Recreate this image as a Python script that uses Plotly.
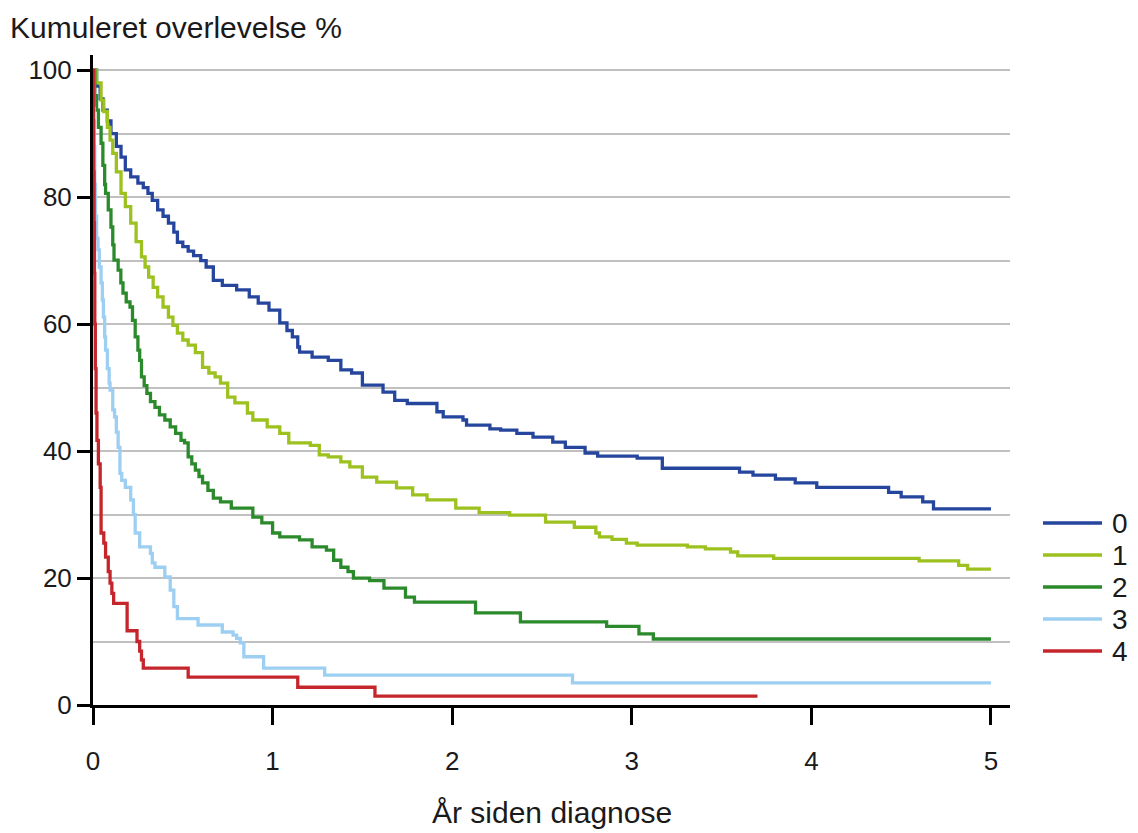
import plotly.graph_objects as go

# Kaplan-Meier style survival curves (percent surviving vs. years since diagnosis)
groups = ["0", "1", "2", "3", "4"]
colors = ["#26469E", "#9DC11F", "#2B8A2B", "#9DCFF2", "#C4262B"]

t0 = [0, 0.02, 0.04, 0.056, 0.08, 0.10, 0.13, 0.156, 0.18, 0.21, 0.25, 0.28, 0.306, 0.33,
      0.36, 0.39, 0.42, 0.45, 0.47, 0.50, 0.53, 0.56, 0.60, 0.63, 0.67, 0.72, 0.80, 0.87,
      0.92, 0.98, 1.04, 1.08, 1.11, 1.14, 1.15, 1.22, 1.31, 1.38, 1.44, 1.50, 1.615, 1.68,
      1.75, 1.915, 1.95, 2.06, 2.08, 2.21, 2.27, 2.36, 2.45, 2.56, 2.63, 2.74, 2.81, 3.03,
      3.17, 3.60, 3.675, 3.80, 3.91, 4.03, 4.43, 4.50, 4.62, 4.68, 5.0]
s0 = [100, 97.5, 95.5, 93.7, 92, 90, 88, 86.3, 84.3, 83.2, 82.2, 81.5, 80.6, 79.5,
      78, 77, 75.9, 74.5, 72.9, 72.2, 71.5, 70.8, 70, 69, 66.9, 66.1, 65.4, 64.3,
      63.3, 62.2, 60.2, 59, 58.0, 56.4, 55.6, 54.8, 54.3, 52.8, 52.3, 50.4, 49.3, 48,
      47.5, 46.2, 45.4, 44.9, 44.1, 43.5, 43.3, 42.8, 42.2, 41.4, 40.6, 39.7, 39.2, 38.9,
      37.3, 36.7, 36.2, 35.6, 35.0, 34.3, 33.5, 32.8, 32.0, 30.9, 30.9]

t1 = [0, 0.02, 0.045, 0.06, 0.08, 0.095, 0.11, 0.13, 0.156, 0.18, 0.21, 0.24, 0.27, 0.29,
      0.31, 0.335, 0.36, 0.39, 0.42, 0.445, 0.47, 0.50, 0.53, 0.57, 0.61, 0.645, 0.68, 0.71,
      0.75, 0.79, 0.86, 0.89, 0.97, 1.04, 1.09, 1.21, 1.26, 1.31, 1.38, 1.43, 1.50, 1.58,
      1.69, 1.78, 1.86, 2.02, 2.15, 2.32, 2.52, 2.68, 2.80, 2.82, 2.89, 2.97, 3.03, 3.31,
      3.41, 3.55, 3.59, 3.79, 4.60, 4.82, 4.87, 5.0]
s1 = [100, 98, 95.3, 93.5, 91, 89, 86.9, 84, 80.6, 78.5, 75.9, 73, 70.6, 69,
      67.4, 65.8, 64.3, 62.7, 61.1, 59.8, 58.6, 57.5, 56.7, 55.5, 53.2, 52.3, 51.7, 50.7,
      48.5, 47.6, 46, 44.9, 43.8, 42.8, 41.3, 40.9, 39.4, 39.1, 38.3, 37.5, 35.9, 35.1,
      34.2, 33.1, 32.3, 31.0, 30.3, 29.9, 28.8, 28.0, 27.1, 26.5, 26.1, 25.5, 25.2, 24.9,
      24.6, 24.1, 23.5, 23.1, 22.7, 22.0, 21.4, 21.4]

t2 = [0, 0.01, 0.02, 0.03, 0.045, 0.055, 0.065, 0.07, 0.085, 0.10, 0.11, 0.117, 0.14,
      0.155, 0.167, 0.185, 0.206, 0.22, 0.235, 0.25, 0.26, 0.27, 0.285, 0.30, 0.32, 0.345,
      0.37, 0.40, 0.43, 0.46, 0.49, 0.51, 0.53, 0.55, 0.57, 0.59, 0.61, 0.64, 0.67, 0.71,
      0.77, 0.89, 0.94, 1.0, 1.04, 1.15, 1.22, 1.30, 1.34, 1.38, 1.42, 1.45, 1.54, 1.62,
      1.74, 1.79, 2.13, 2.38, 2.86, 3.04, 3.12, 5.0]
s2 = [100, 96, 93.7, 91, 88.5, 85, 82, 80.6, 78, 75.3, 72.5, 70.1, 68.5,
      66.5, 64.9, 63.5, 62.7, 60.6, 58, 55.9, 54.3, 51.7, 50.3, 49.1, 47.8, 46.9,
      45.7, 44.9, 43.8, 42.8, 41.7, 41.3, 39.1, 38.0, 37.0, 36, 35.0, 33.8, 32.6, 32.0,
      31.0, 29.6, 28.7, 27.1, 26.5, 26.0, 24.9, 24.4, 22.8, 21.7, 21.0, 20.0, 19.6, 18.4,
      17.0, 16.2, 14.5, 13.1, 12.4, 11.2, 10.4, 10.4]

t3 = [0, 0.003, 0.006, 0.01, 0.014, 0.02, 0.028, 0.035, 0.045, 0.052, 0.058, 0.065, 0.07,
      0.08, 0.09, 0.095, 0.11, 0.12, 0.13, 0.14, 0.15, 0.16, 0.18, 0.21, 0.225, 0.235,
      0.26, 0.32, 0.33, 0.345, 0.40, 0.43, 0.45, 0.47, 0.585, 0.72, 0.78, 0.80, 0.82,
      0.84, 0.95, 1.29, 2.67, 5.0]
s3 = [100, 94, 88, 82, 77, 73.5, 71.7, 69, 66.5, 63.8, 61.1, 58, 55.9,
      53, 50.7, 49.6, 46.5, 45.4, 43, 40.6, 36.5, 35.4, 34.3, 32.3, 30, 27.1,
      24.9, 23.9, 22.4, 21.7, 20.2, 18.1, 15.5, 13.6, 12.6, 11.5, 11.0, 10.5, 9.8,
      7.6, 5.8, 4.7, 3.5, 3.5]

t4 = [0, 0.002, 0.004, 0.006, 0.008, 0.01, 0.013, 0.017, 0.022, 0.03, 0.04, 0.045, 0.06,
      0.07, 0.085, 0.095, 0.105, 0.115, 0.19, 0.245, 0.26, 0.27, 0.28, 0.53, 1.14, 1.57, 3.70]
s4 = [100, 92, 84, 76, 68, 60, 53, 46, 41.7, 38, 34.3, 27.1, 25.5,
      23.3, 21, 19.2, 17.6, 16.0, 11.7, 10.0, 8.5, 7.1, 5.8, 4.4, 2.8, 1.4, 1.4]

times = [t0, t1, t2, t3, t4]
surv = [s0, s1, s2, s3, s4]

FONT = "Liberation Sans, Arial, sans-serif"
TXT = "#1a1a1a"

fig = go.Figure()
for name, col, t, s in zip(groups, colors, times, surv):
    fig.add_trace(go.Scatter(
        x=t, y=s, mode="lines", name=name, showlegend=False,
        line=dict(color=col, width=3.3, shape="hv"),
    ))

# Right-hand key: short colour bar followed by the group label
key_top = 523
key_step = 32
for i, (name, col) in enumerate(zip(groups, colors)):
    ypx = key_top + i * key_step
    yp = (705 - ypx) / 650
    fig.add_shape(type="line", xref="paper", yref="paper",
                  x0=(1043 - 93) / 917, x1=(1102 - 93) / 917, y0=yp, y1=yp,
                  line=dict(color=col, width=3.5))
    fig.add_annotation(xref="paper", yref="paper", x=(1110 - 93) / 917, y=yp,
                       text=name, showarrow=False, xanchor="left", yanchor="middle",
                       font=dict(family=FONT, size=28, color=TXT))

fig.add_annotation(xref="paper", yref="paper", x=(8 - 93) / 917, y=(705 - 27) / 650,
                   text="Kumuleret overlevelse %", showarrow=False,
                   xanchor="left", yanchor="middle",
                   font=dict(family=FONT, size=30, color=TXT))
fig.add_annotation(xref="paper", yref="paper", x=(552 - 93) / 917, y=(705 - 812) / 650,
                   text="År siden diagnose", showarrow=False,
                   xanchor="center", yanchor="middle",
                   font=dict(family=FONT, size=30, color=TXT))

fig.update_layout(
    width=1138, height=833,
    margin=dict(l=93, r=128, t=55, b=128, pad=0),
    paper_bgcolor="white", plot_bgcolor="white",
    font=dict(family=FONT, color=TXT),
    xaxis=dict(
        range=[0, 5.106], tickvals=[0, 1, 2, 3, 4, 5],
        showgrid=False, zeroline=False,
        showline=True, linecolor="black", linewidth=3,
        ticks="outside", ticklen=17, tickwidth=3, tickcolor="black",
        tickfont=dict(family=FONT, size=26, color=TXT),
        ticklabelstandoff=14,
    ),
    yaxis=dict(
        range=[0, 102.4], tickvals=[0, 20, 40, 60, 80, 100],
        showgrid=True, gridcolor="#c0c0c0", gridwidth=2, zeroline=False,
        minor=dict(dtick=10, showgrid=True, gridcolor="#c0c0c0", gridwidth=2, ticks=""),
        showline=True, linecolor="black", linewidth=3,
        ticks="outside", ticklen=13, tickwidth=3, tickcolor="black",
        tickfont=dict(family=FONT, size=26, color=TXT),
    ),
)

fig.write_html("out.html")
